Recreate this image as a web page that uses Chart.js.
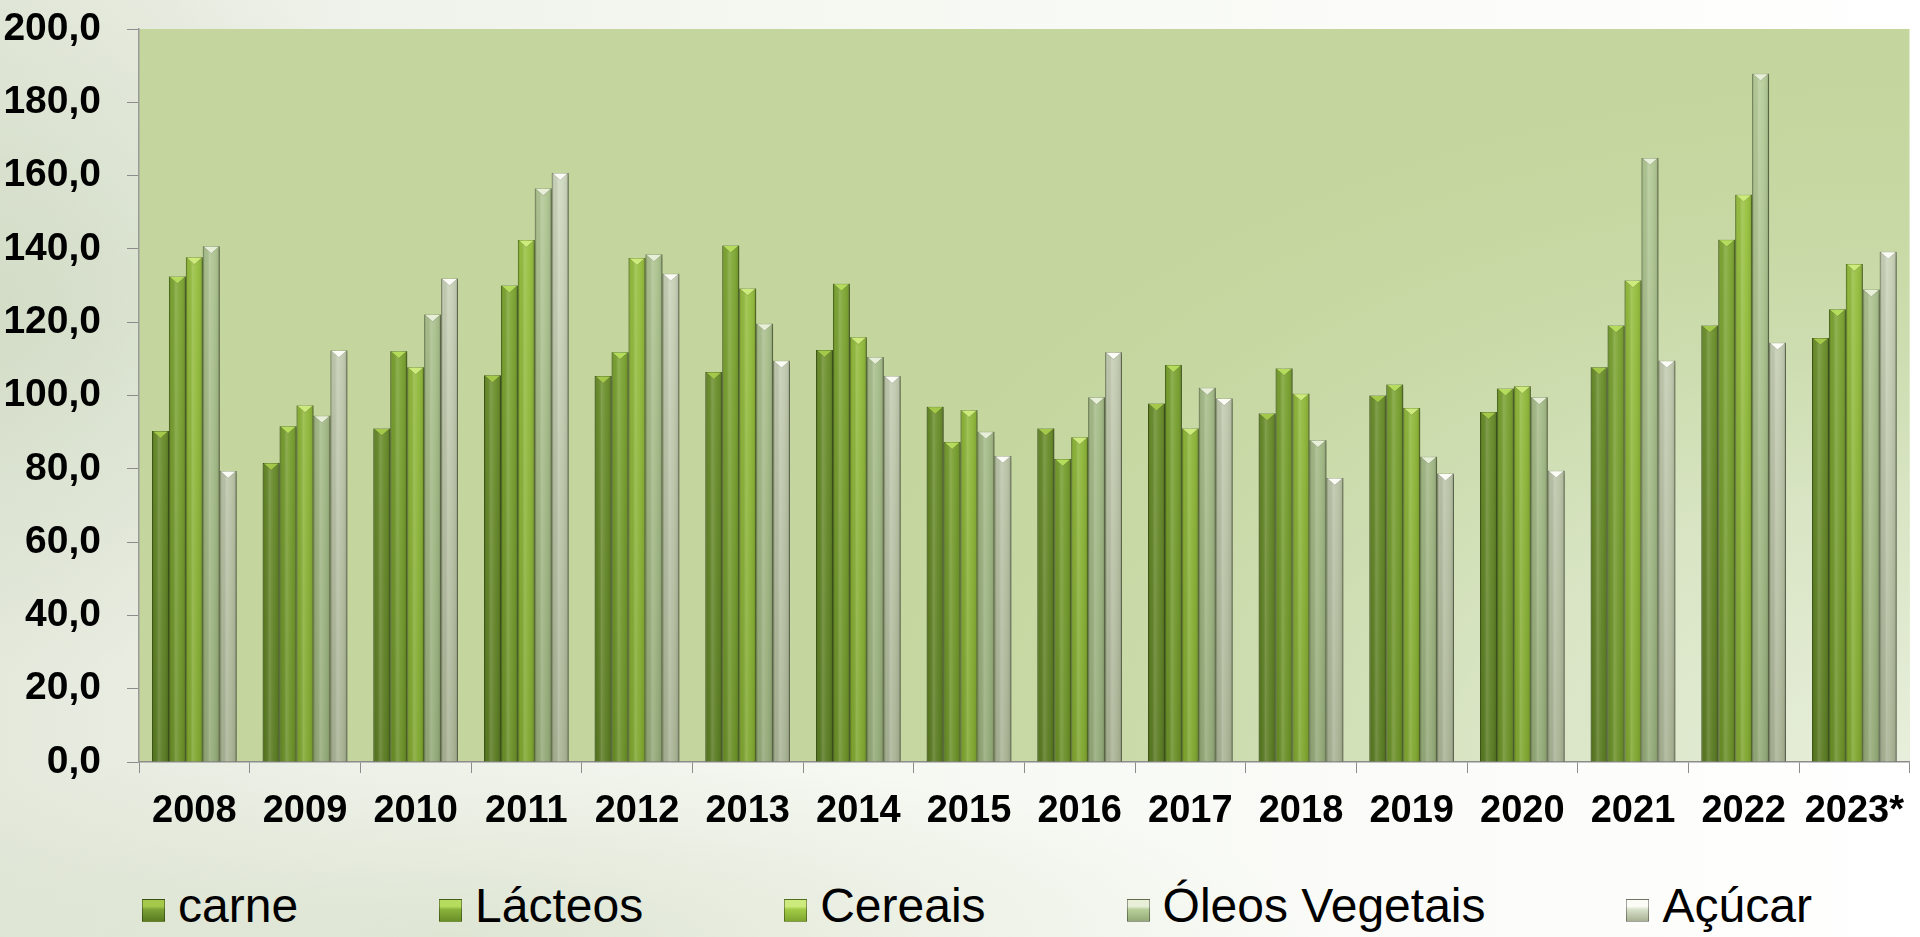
<!DOCTYPE html>
<html>
<head>
<meta charset="utf-8">
<script src="https://cdn.jsdelivr.net/npm/chart.js@4.4.1/dist/chart.umd.min.js"></script>
<style>
html,body{margin:0;padding:0;width:1920px;height:937px;overflow:hidden;}
body{
  font-family:'Liberation Sans',Arial,sans-serif;
  background:
    radial-gradient(ellipse 650px 520px at 0px 300px, rgba(196,210,180,0.55), rgba(196,210,180,0) 72%),
    radial-gradient(ellipse 1200px 260px at 450px 937px, rgba(212,222,198,0.65), rgba(212,222,198,0) 72%),
    linear-gradient(to right, #e4e9dc 0%, #eff2ea 18%, #f6f8f2 45%, #fbfcf9 75%, #ffffff 100%);
}
#wrap{position:absolute;left:0;top:0;width:1920px;height:850px;}
#legend{position:absolute;left:142px;top:882px;display:flex;gap:141px;font-size:48px;line-height:48px;color:#000;white-space:nowrap;}
#legend .item{display:flex;align-items:flex-start;}
#legend .box{width:23px;height:23px;margin-top:17px;margin-right:13px;box-sizing:border-box;border:1px solid rgba(0,0,0,0.35);}
</style>
</head>
<body>
<div id="wrap"><canvas id="c" width="1920" height="850"></canvas></div>
<div id="legend"></div>
<script>
// ---- data ----
const categories = ['2008','2009','2010','2011','2012','2013','2014','2015','2016','2017','2018','2019','2020','2021','2022','2023*'];
const seriesNames = ['carne','Lácteos','Cereais','Óleos Vegetais','Açúcar'];
const carne   = [90.3, 81.6, 91.0, 105.5, 105.3, 106.4, 112.4, 96.9, 91.0, 97.8, 95.1, 100.0, 95.5, 107.7, 119.1, 115.7];
const lacteos = [132.5, 91.6, 112.1, 130.0, 111.8, 140.9, 130.5, 87.3, 82.7, 108.3, 107.4, 103.0, 101.9, 119.1, 142.5, 123.5];
const cereais = [137.7, 97.3, 107.7, 142.4, 137.5, 129.2, 115.9, 96.0, 88.6, 91.0, 100.5, 96.6, 102.5, 131.4, 154.8, 135.9];
const oleos   = [140.7, 94.5, 122.1, 156.5, 138.5, 119.6, 110.5, 90.1, 99.5, 102.1, 87.8, 83.3, 99.5, 164.8, 187.8, 128.9];
const acucar  = [79.4, 112.3, 131.9, 160.7, 133.2, 109.5, 105.3, 83.5, 111.8, 99.2, 77.5, 78.7, 79.5, 109.5, 114.4, 139.2];
const yTickValues = [0, 20, 40, 60, 80, 100, 120, 140, 160, 180, 200];
const yTickLabels = ['0,0','20,0','40,0','60,0','80,0','100,0','120,0','140,0','160,0','180,0','200,0'];

// ---- styles ----
const seriesValues = [carne, lacteos, cereais, oleos, acucar];
const barTop    = ['#7ca236', '#89b33b', '#a2cb47', '#b9cf9b', '#d8e1c9'];
const barBottom = ['#5a7b22', '#6a8f27', '#7fa62f', '#93a977', '#a8b293'];
const edge      = ['#4d6a1c', '#5a7d20', '#6c9126', '#849a6a', '#98a285'];
const capColor  = ['#a3c84a', '#b5dc5c', '#cdeb7c', '#e8efd9', '#fbfcf6'];
const FONT = "'Liberation Sans', Arial, sans-serif";

function vertGrad(c, i) {
  const ca = c.chart.chartArea;
  if (!ca) return barTop[i];
  const g = c.chart.ctx.createLinearGradient(0, ca.bottom, 0, ca.top);
  g.addColorStop(0, barBottom[i]);
  g.addColorStop(1, barTop[i]);
  return g;
}

const plotBg = {
  id: 'plotBg',
  beforeDraw(chart) {
    const {ctx, chartArea: a} = chart;
    ctx.save();
    ctx.beginPath();
    ctx.rect(a.left, a.top, a.right - a.left, a.bottom - a.top);
    ctx.clip();
    ctx.fillStyle = '#c4d69d';
    ctx.fillRect(a.left, a.top, a.right - a.left, a.bottom - a.top);
    // elliptical light glow from bottom-right
    ctx.translate(a.right, a.bottom);
    ctx.scale(1, 0.62);
    const R = 1250;
    const g = ctx.createRadialGradient(0, 0, 0, 0, 0, R);
    g.addColorStop(0, 'rgba(232,239,220,1)');
    g.addColorStop(0.35, 'rgba(220,231,202,0.85)');
    g.addColorStop(0.7, 'rgba(205,221,176,0.4)');
    g.addColorStop(1, 'rgba(196,214,157,0)');
    ctx.fillStyle = g;
    ctx.fillRect(-R, -R, 2 * R, 2 * R);
    ctx.restore();
  }
};

const barShadow = {
  id: 'barShadow',
  beforeDatasetDraw(chart) {
    const ctx = chart.ctx;
    ctx.save();
    ctx.shadowColor = 'rgba(40,50,20,0.35)';
    ctx.shadowBlur = 4;
    ctx.shadowOffsetX = 2;
    ctx.shadowOffsetY = 1;
  },
  afterDatasetDraw(chart) {
    chart.ctx.restore();
  }
};

const barShade = {
  id: 'barShade',
  afterDatasetsDraw(chart) {
    const ctx = chart.ctx;
    ctx.save();
    chart.data.datasets.forEach((ds, di) => {
      const meta = chart.getDatasetMeta(di);
      meta.data.forEach(el => {
        const {x, y, base, width} = el.getProps(['x', 'y', 'base', 'width'], true);
        const l = x - width / 2, r = x + width / 2;
        const g = ctx.createLinearGradient(l, 0, r, 0);
        g.addColorStop(0, 'rgba(0,0,0,0.22)');
        g.addColorStop(0.14, 'rgba(0,0,0,0.03)');
        g.addColorStop(0.4, 'rgba(255,255,255,0.16)');
        g.addColorStop(0.65, 'rgba(255,255,255,0.04)');
        g.addColorStop(0.88, 'rgba(0,0,0,0.06)');
        g.addColorStop(1, 'rgba(0,0,0,0.3)');
        ctx.fillStyle = g;
        ctx.fillRect(l, y, width, base - y);
        // top cap (bevel)
        const h = Math.min(width * 0.42, base - y);
        ctx.beginPath();
        ctx.moveTo(l + 1, y + 0.5);
        ctx.lineTo(r - 1, y + 0.5);
        ctx.lineTo(x, y + h);
        ctx.closePath();
        ctx.fillStyle = capColor[di];
        ctx.fill();
        ctx.strokeStyle = 'rgba(0,0,0,0.18)';
        ctx.lineWidth = 0.8;
        ctx.beginPath();
        ctx.moveTo(l + 1, y + 0.5);
        ctx.lineTo(x, y + h);
        ctx.lineTo(r - 1, y + 0.5);
        ctx.stroke();
      });
    });
    ctx.restore();
  }
};

const chart = new Chart(document.getElementById('c'), {
  type: 'bar',
  data: {
    labels: categories,
    datasets: seriesNames.map((name, i) => ({
      label: name,
      data: seriesValues[i],
      backgroundColor: (c) => vertGrad(c, i),
      borderColor: edge[i],
      borderWidth: 1,
      categoryPercentage: 0.765,
      barPercentage: 1.0
    }))
  },
  options: {
    responsive: false,
    animation: false,
    layout: {padding: {top: 29, left: 0, right: 0, bottom: 0}},
    plugins: {legend: {display: false}, tooltip: {enabled: false}},
    scales: {
      x: {
        grid: {display: true, drawOnChartArea: false, offset: true, tickLength: 11, color: '#8c8c8c', lineWidth: 1},
        border: {color: '#8c8c8c', width: 1.5},
        ticks: {color: '#000', font: {family: FONT, size: 38, weight: 'bold'}, padding: 16, maxRotation: 0, autoSkip: false},
        afterFit: (s) => { s.height = 88; }
      },
      y: {
        min: 0, max: 200,
        ticks: {
          stepSize: 20,
          callback: (v) => yTickLabels[yTickValues.indexOf(v)],
          color: '#000',
          font: {family: FONT, size: 39, weight: 'bold'},
          padding: 26
        },
        grid: {drawOnChartArea: false, tickLength: 12, color: '#8c8c8c'},
        border: {color: '#9a9a9a', width: 1.5},
        afterFit: (s) => { s.width = 139; s.paddingTop = 0; s.paddingBottom = 0; }
      }
    }
  },
  plugins: [plotBg, barShadow, barShade]
});

// ---- HTML legend built from chart datasets ----
const leg = document.getElementById('legend');
chart.data.datasets.forEach((ds, i) => {
  const item = document.createElement('div');
  item.className = 'item';
  const box = document.createElement('span');
  box.className = 'box';
  box.style.background = 'linear-gradient(to bottom, ' + capColor[i] + ' 0%, ' + capColor[i] + ' 30%, ' + barTop[i] + ' 45%, ' + barBottom[i] + ' 100%)';
  const txt = document.createElement('span');
  txt.textContent = ds.label;
  item.appendChild(box);
  item.appendChild(txt);
  leg.appendChild(item);
});
</script>
</body>
</html>
